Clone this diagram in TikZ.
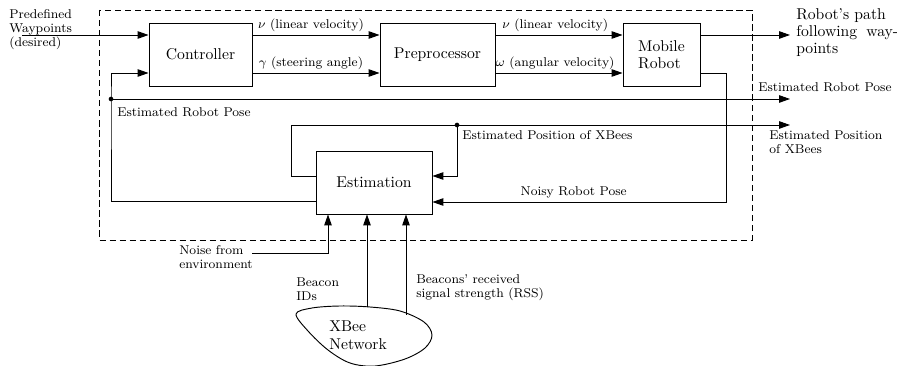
\documentclass[tikz,border=0pt]{standalone}
\usepackage{fix-cm}
\usepackage{fontspec}
\usetikzlibrary{arrows.meta,calc}
\begin{document}
\begin{tikzpicture}[x=0.6386pt,y=-0.6386pt,
  box/.style={draw, line width=0.6pt, minimum height=63*0.6386pt, inner sep=0pt, font=\fontsize{10}{11}\selectfont},
  lbl/.style={inner sep=0pt, font=\fontsize{8.15}{9}\selectfont, align=left},
  big/.style={inner sep=0pt, align=left},
  wire/.style={line width=0.6pt},
  arr/.style={-{Triangle[length=7pt,width=4.8pt]}},
  dot/.style={circle, fill, inner sep=0pt, minimum size=3pt},
  frame/.style={line width=0.6pt, dash pattern=on 4pt off 2.4pt}]
\useasboundingbox (0,0) rectangle (897,366);

% frame
\draw[frame] (99,10) rectangle (752,240);

% blocks
\node[box, minimum width=103*0.6386pt] (ctrl) at (200.5,54.5) {Controller};
\node[box, minimum width=115*0.6386pt] (pre) at (437.5,54.5) {Preprocessor};
\node[box, minimum width=77*0.6386pt, align=left] (mob) at (661.5,54.5) {Mobile\\Robot};
\node[box, minimum width=116*0.6386pt] (est) at (374,182.5) {Estimation};

% helper coordinates
\coordinate (in) at (22,35);
\coordinate (rowA) at (0,35);
\coordinate (rowB) at (0,73);
\coordinate (rowE) at (0,201);
\coordinate (rowP) at (0,176);
\coordinate (rowN) at (0,202);
\coordinate (colP) at (291,0);
\coordinate (colN) at (726,0);
\coordinate (colA) at (328,0);
\coordinate (outp) at (790,35);
\coordinate (erpend) at (790,99);
\coordinate (eppend) at (790,125);
\coordinate (nz) at (252,253);
\coordinate (c1) at (367,307);
\coordinate (c2) at (406,315);
\node[dot] (d1) at (111,99) {};
\node[dot] (d2) at (457,125) {};

% input
\node[lbl, anchor=north west] (pw) at (9,9) {Predefined\\Waypoints\\(desired)};
\draw[wire, arr] (in) -- (in -| ctrl.west);

% controller -> preprocessor
\draw[wire, arr] (ctrl.east |- rowA) -- node[lbl, anchor=south, pos=0.46, yshift=1.5pt] (nu1) {$\nu$ (linear velocity)} (pre.west |- rowA);
\draw[wire, arr] (ctrl.east |- rowB) -- node[lbl, anchor=south, pos=0.46, yshift=1.5pt] (ga) {$\gamma$ (steering angle)} (pre.west |- rowB);

% preprocessor -> robot
\draw[wire, arr] (pre.east |- rowA) -- node[lbl, anchor=south, pos=0.47, yshift=1.5pt] (nu2) {$\nu$ (linear velocity)} (mob.west |- rowA);
\draw[wire, arr] (pre.east |- rowB) -- node[lbl, anchor=south, pos=0.47, yshift=1.5pt] (om) {$\omega$ (angular velocity)} (mob.west |- rowB);

% output
\draw[wire, arr] (mob.east |- rowA) -- (outp);
\node[big, anchor=west, font=\fontsize{10}{11}\selectfont] (rp) at (796,32.5) {Robot's path\\following\hspace{2.5pt} way-\\points};

% estimated robot pose
\draw[wire, arr] (est.west |- rowE) -| (d1.center) |- (ctrl.west |- rowB);
\draw[wire, arr] (d1.center) -- (erpend);
\node[lbl, anchor=north west] (erp1) at (117,107) {Estimated Robot Pose};
\node[lbl, anchor=north west] (erp2) at (758,82) {Estimated Robot Pose};

% estimated position of XBees
\draw[wire, arr] (est.west |- rowP) -| (colP |- d2) -- (eppend);
\draw[wire, arr] (d2.center) |- (est.east |- rowP);
\node[lbl, anchor=north west] (ep1) at (462,130) {Estimated Position of XBees};
\node[lbl, anchor=north west] (ep2) at (769,130) {Estimated Position\\of XBees};

% noisy robot pose
\draw[wire, arr] (mob.east |- rowB) -| (colN |- rowN) -- node[lbl, anchor=south, pos=0.519, yshift=2pt] (nrp) {Noisy Robot Pose} (est.east |- rowN);

% noise
\draw[wire, arr] (nz) -| (colA |- est.south);
\node[lbl, anchor=north west] (noise) at (179,245) {Noise from\\environment};

% XBee network
\draw[wire] plot[smooth cycle, tension=0.55] coordinates {(296,314) (312,308) (340,306) (370,307) (400,311) (424,322) (432,335) (425,348) (405,359) (375,366) (350,363) (328,350) (308,331)};
\node[big, anchor=north west, font=\fontsize{10}{12}\selectfont] (xbee) at (329,320) {XBee\\Network};

\draw[wire, arr] (c1) -- (c1 |- est.south);
\draw[wire, arr] (c2) -- (c2 |- est.south);
\node[lbl, anchor=north west] (bid) at (296,277) {Beacon\\IDs};
\node[lbl, anchor=north west] (rss) at (416,274) {Beacons' received\\signal strength (RSS)};
\end{tikzpicture}
\end{document}
